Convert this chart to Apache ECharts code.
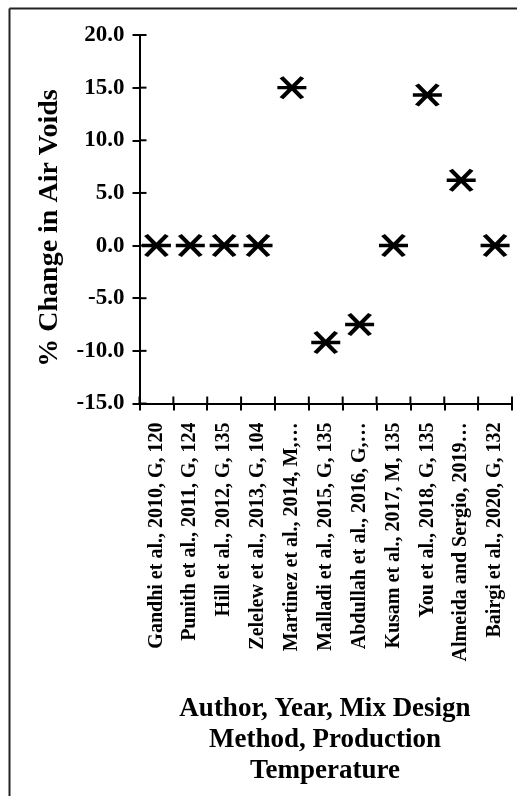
<!DOCTYPE html>
<html>
<head>
<meta charset="utf-8">
<script src="https://cdn.jsdelivr.net/npm/echarts@6/dist/echarts.min.js"></script>
<style>html,body{margin:0;padding:0;background:#fff}#c{width:517px;height:796px}</style>
</head>
<body>
<div id="c"></div>
<script>
var categories = [
  "Gandhi et al., 2010, G, 120",
  "Punith et al., 2011, G, 124",
  "Hill et al., 2012, G, 135",
  "Zelelew et al., 2013, G, 104",
  "Martinez et al., 2014, M,\u2026",
  "Malladi et al., 2015, G, 135",
  "Abdullah et al., 2016, G,\u2026",
  "Kusam et al., 2017, M, 135",
  "You et al., 2018, G, 135",
  "Almeida and Sergio, 2019\u2026",
  "Bairgi et al., 2020, G, 132"
];
var airVoidChange = [0, 0, 0, 0, 15.0, -9.2, -7.5, 0, 14.3, 6.2, 0];
var yTickValues = [-15, -10, -5, 0, 5, 10, 15, 20];
var yTitle = '% Change in Air Voids';
var xTitle = 'Author, Year, Mix Design\nMethod, Production\nTemperature';

var FONT = '"Liberation Serif", "Times New Roman", serif';
var grid = { left: 139.5, right: 5, top: 35, bottom: 392.5 };
var TICK = 7;

var starPath = 'path://M-1 0 L1 0 M-0.72 -0.7 L0.72 0.7 M-0.72 0.7 L0.72 -0.7';
var yMin = yTickValues[0], yMax = yTickValues[yTickValues.length - 1];
var tickStyle = { stroke: '#000', lineWidth: 2 };

var chart = echarts.init(document.getElementById('c'), null, { renderer: 'canvas' });
chart.setOption({
  backgroundColor: '#fff',
  animation: false,
  grid: grid,
  graphic: [
    { type: 'line', shape: { x1: 9.5, y1: 8.5, x2: 517, y2: 8.5 }, style: { stroke: '#222', lineWidth: 2 } },
    { type: 'line', shape: { x1: 9.5, y1: 8.5, x2: 9.5, y2: 796 }, style: { stroke: '#222', lineWidth: 2 } },
    { type: 'text', x: 325, y: 694, style: {
        text: xTitle, font: 'bold 27px ' + FONT, fill: '#000',
        align: 'center', verticalAlign: 'top', lineHeight: 31 } },
    { type: 'text', x: 50, y: 228, rotation: Math.PI / 2, style: {
        text: yTitle, font: 'bold 28px ' + FONT, fill: '#000',
        align: 'center', verticalAlign: 'middle' } }
  ],
  xAxis: {
    type: 'category', data: categories, position: 'bottom', boundaryGap: true,
    axisLine: { onZero: false, lineStyle: { color: '#000', width: 2 } },
    axisTick: { show: true, interval: 0, alignWithLabel: false, length: TICK, lineStyle: { color: '#000', width: 2 } },
    axisLabel: { rotate: 90, interval: 0, margin: 19, fontFamily: FONT, fontWeight: 'bold', fontSize: 20, color: '#000' },
    splitLine: { show: false }
  },
  yAxis: {
    type: 'value', min: yMin, max: yMax, interval: 5,
    axisLine: { show: true, onZero: false, lineStyle: { color: '#000', width: 2 } },
    axisTick: { show: true, length: TICK, lineStyle: { color: '#000', width: 2 } },
    axisLabel: { margin: 15, fontFamily: FONT, fontWeight: 'bold', fontSize: 23, color: '#000',
      formatter: function (v) { return v.toFixed(1); } },
    splitLine: { show: false }
  },
  series: [{
    type: 'scatter',
    data: airVoidChange,
    symbol: starPath,
    symbolSize: [29, 21],
    itemStyle: { color: 'rgba(0,0,0,0)', borderColor: '#000', borderWidth: 4, opacity: 1 },
    z: 3
  }, {
    // inner half of the x-axis tick marks (ticks cross the axis)
    type: 'custom',
    silent: true,
    clip: false,
    z: 2,
    data: categories.map(function (c, i) { return [i, yMin]; }),
    renderItem: function (params, api) {
      var p = api.coord([api.value(0), api.value(1)]);
      var w = api.size([1, 0])[0];
      var xs = [p[0] - w / 2];
      if (params.dataIndex === categories.length - 1) xs.push(p[0] + w / 2);
      return {
        type: 'group',
        children: xs.map(function (x) {
          return { type: 'line', shape: { x1: x, y1: p[1], x2: x, y2: p[1] - TICK }, style: tickStyle };
        })
      };
    }
  }, {
    // inner half of the y-axis tick marks
    type: 'custom',
    silent: true,
    clip: false,
    z: 2,
    data: yTickValues.map(function (v) { return [0, v]; }),
    renderItem: function (params, api) {
      var p = api.coord([api.value(0), api.value(1)]);
      var w = api.size([1, 0])[0];
      var x = p[0] - w / 2;
      return { type: 'line', shape: { x1: x, y1: p[1], x2: x + TICK, y2: p[1] }, style: tickStyle };
    }
  }]
});
</script>
</body>
</html>
